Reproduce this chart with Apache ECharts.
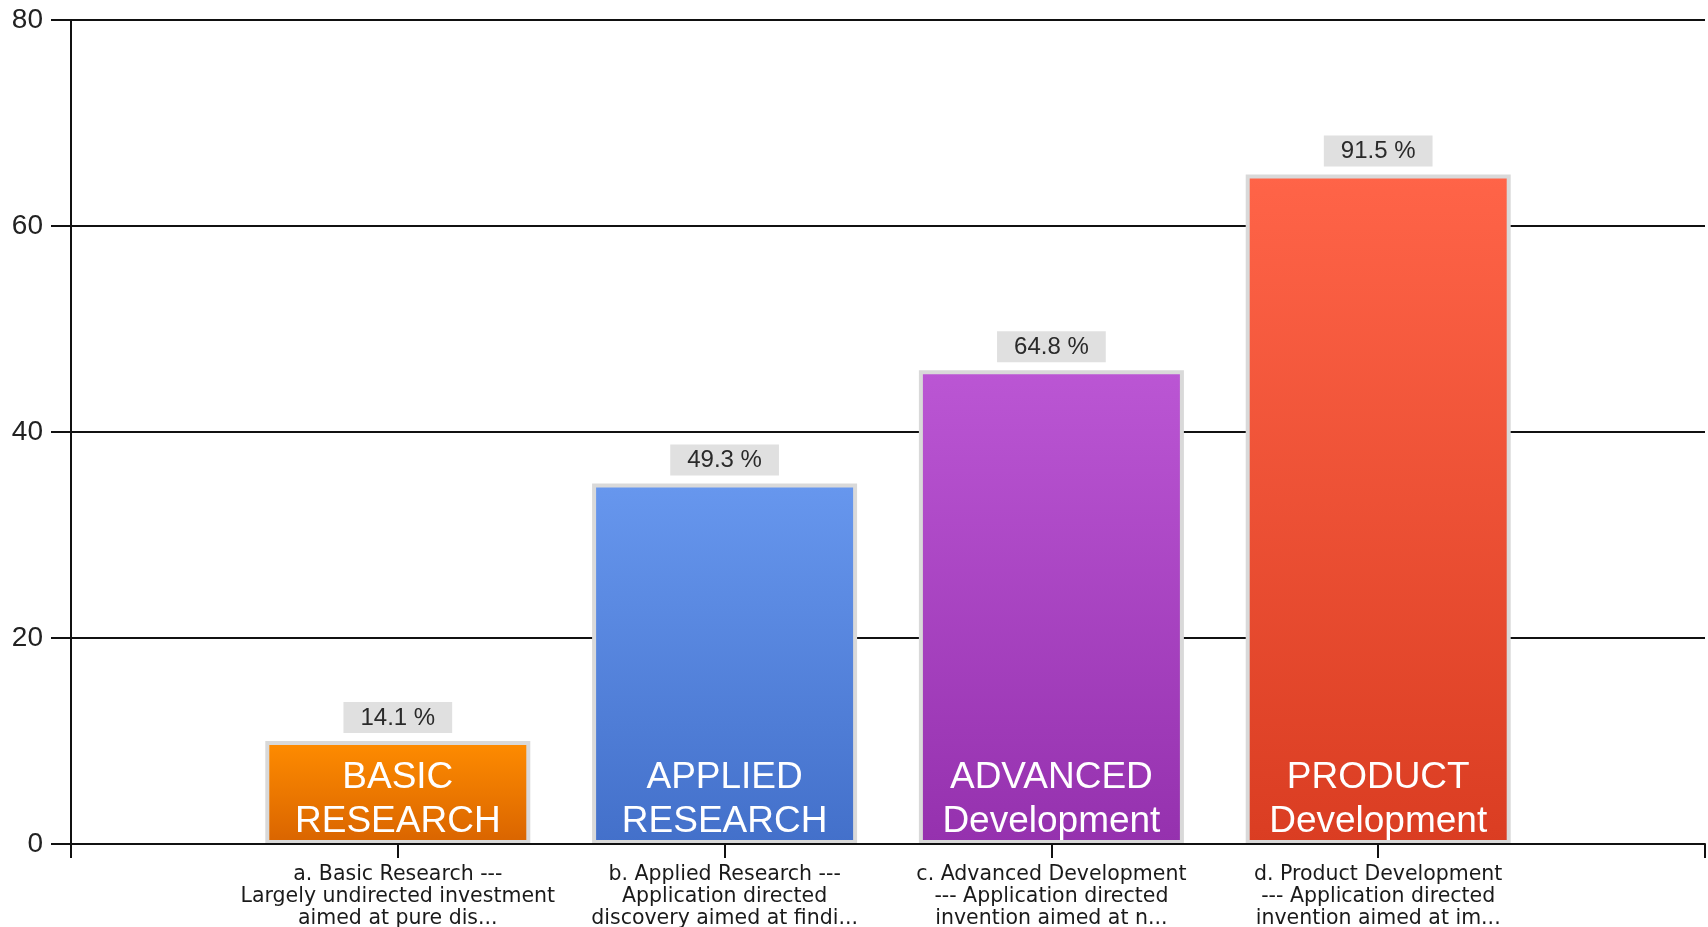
<!DOCTYPE html>
<html>
<head>
<meta charset="utf-8">
<script src="https://cdn.jsdelivr.net/npm/echarts@6/dist/echarts.min.js"></script>
<style>
  html, body { margin: 0; padding: 0; background: #fff; }
  #chart { width: 1708px; height: 927px; }
</style>
</head>
<body>
<div id="chart"></div>
<script>
// DATA
const categories = [
  "a. Basic Research ---\nLargely undirected investment\naimed at pure dis...",
  "b. Applied Research ---\nApplication directed\ndiscovery aimed at findi...",
  "c. Advanced Development\n--- Application directed\ninvention aimed at n...",
  "d. Product Development\n--- Application directed\ninvention aimed at im..."
];
const values = [10, 35, 46, 65];
const percentLabels = ["14.1 %", "49.3 %", "64.8 %", "91.5 %"];
const barNames = ["BASIC\nRESEARCH", "APPLIED\nRESEARCH", "ADVANCED\nDevelopment", "PRODUCT\nDevelopment"];
const yTicks = { min: 0, max: 80, interval: 20 };

const topColors = ["#ff8c00", "#6797ee", "#bb56d4", "#ff6448"];
const bottomColors = ["#d96400", "#4370ca", "#9531ae", "#da3d22"];

// blank slot at each end so bars sit on ticks 1..4 of a 0..5 axis
const axisData = [""].concat(categories, [""]);

function grad(i) {
  return {
    type: "linear", x: 0, y: 0, x2: 0, y2: 1,
    colorStops: [
      { offset: 0, color: topColors[i] },
      { offset: 1, color: bottomColors[i] }
    ]
  };
}

const barData = ["-"].concat(values.map((v, i) => ({
  value: v,
  itemStyle: { color: grad(i) },
  label: { formatter: barNames[i] }
})), ["-"]);

const pctData = ["-"].concat(values.map((v, i) => ({
  value: v,
  label: { formatter: percentLabels[i] }
})), ["-"]);

// CHART
var chart = echarts.init(document.getElementById("chart"));

chart.setOption({
  animation: false,
  grid: { left: 71, right: 3, top: 20, bottom: 83, containLabel: false, outerBoundsMode: "none" },
  xAxis: {
    type: "category",
    data: axisData,
    boundaryGap: false,
    z: 10,
    axisLine: { lineStyle: { color: "#111", width: 2 } },
    axisTick: { show: true, length: 14, interval: 0, lineStyle: { color: "#111", width: 2 } },
    axisLabel: {
      interval: 0,
      margin: 20,
      fontFamily: "DejaVu Sans",
      fontSize: 20.5,
      lineHeight: 22,
      color: "#1a1a1a",
      align: "center"
    },
    splitLine: { show: false }
  },
  yAxis: {
    type: "value",
    min: yTicks.min,
    max: yTicks.max,
    interval: yTicks.interval,
    axisLine: { show: true, lineStyle: { color: "#111", width: 2 } },
    axisTick: { show: true, length: 20, lineStyle: { color: "#111", width: 2 } },
    axisLabel: {
      margin: 28,
      fontFamily: "Liberation Sans",
      fontSize: 28,
      color: "#222"
    },
    splitLine: { show: true, lineStyle: { color: "#111", width: 2 } }
  },
  series: [
    {
      type: "bar",
      data: barData,
      barWidth: 265,
      barGap: "-100%",
      itemStyle: { borderColor: "#d9d9d9", borderWidth: 4 },
      label: {
        show: true,
        position: "insideBottom",
        distance: 0,
        color: "#fff",
        fontFamily: "Liberation Sans",
        fontSize: 37,
        lineHeight: 44,
        align: "center"
      }
    },
    {
      type: "bar",
      data: pctData,
      barWidth: 265,
      barGap: "-100%",
      itemStyle: { color: "transparent", borderWidth: 0 },
      label: {
        show: true,
        position: "top",
        distance: 8,
        color: "#2a2a2a",
        fontFamily: "Liberation Sans",
        fontSize: 24,
        backgroundColor: "#e0e0e0",
        padding: [4, 17, 3, 17]
      }
    }
  ]
});
</script>
</body>
</html>
